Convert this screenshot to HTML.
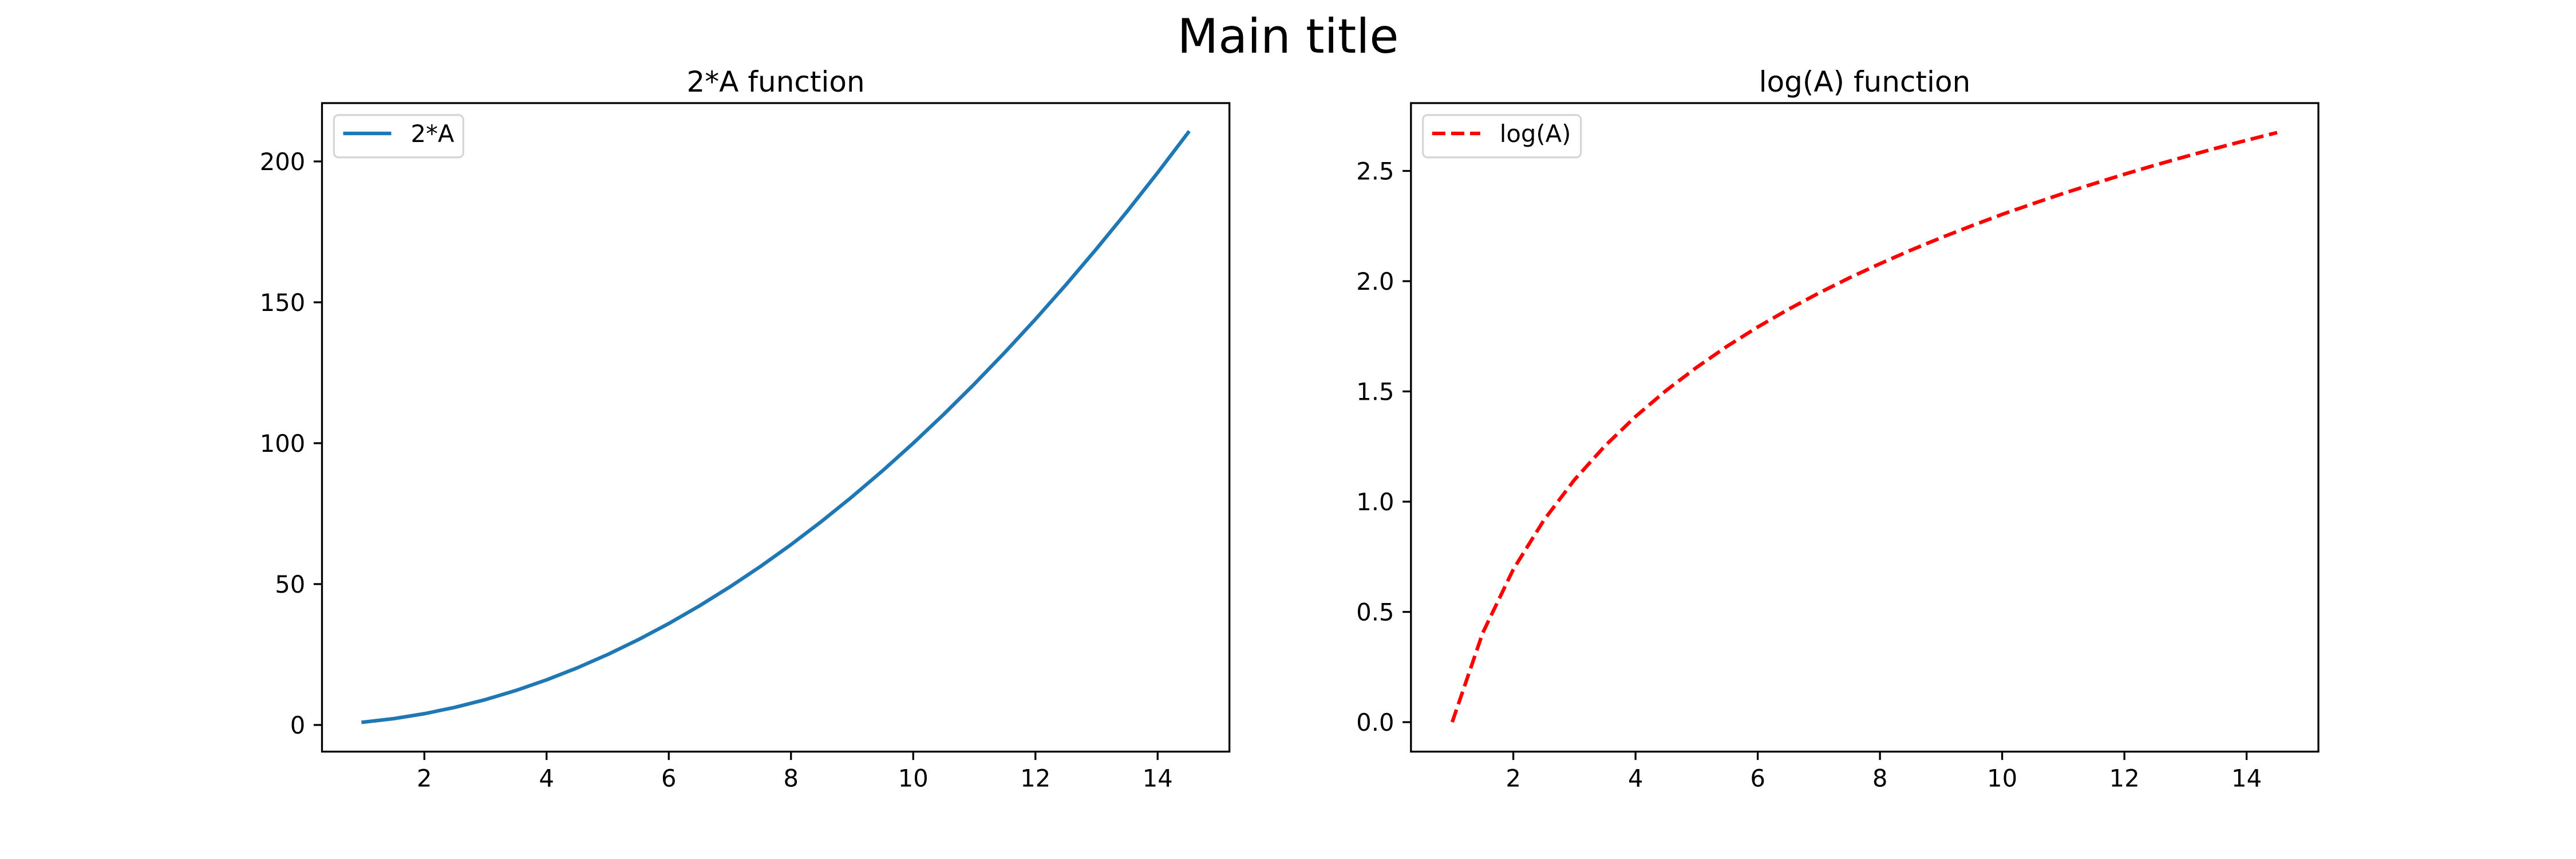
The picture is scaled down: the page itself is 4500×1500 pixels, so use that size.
<!DOCTYPE html>
<html><head><meta charset="utf-8"><style>
html,body{margin:0;padding:0;background:#fff;}
svg{display:block;font-family:"DejaVu Sans","Liberation Sans",sans-serif;}
</style></head><body>
<svg id="fig" width="4500" height="1500" viewBox="0 0 4500 1500">
<rect width="4500" height="1500" fill="#fff"/>
<text x="2250" y="92" font-size="83" text-anchor="middle">Main title</text>
</svg>
<script>
const xValues = [1,1.5,2,2.5,3,3.5,4,4.5,5,5.5,6,6.5,7,7.5,8,8.5,9,9.5,10,10.5,11,11.5,12,12.5,13,13.5,14,14.5];
const squareValues = [1,2.25,4,6.25,9,12.25,16,20.25,25,30.25,36,42.25,49,56.25,64,72.25,81,90.25,100,110.25,121,132.25,144,156.25,169,182.25,196,210.25];
const logValues = [0,0.405,0.693,0.916,1.099,1.253,1.386,1.504,1.609,1.705,1.792,1.872,1.946,2.015,2.079,2.140,2.197,2.251,2.303,2.351,2.398,2.442,2.485,2.526,2.565,2.603,2.639,2.674];
const xTicks = [2,4,6,8,10,12,14];
const yTicksLeft = [0,50,100,150,200];
const yTicksRight = [0,0.5,1.0,1.5,2.0,2.5];

const NS = "http://www.w3.org/2000/svg";
const svg = document.getElementById('fig');
function el(tag, attrs, parent){const e=document.createElementNS(NS,tag);for(const k in attrs)e.setAttribute(k,attrs[k]);(parent||svg).appendChild(e);return e;}

function panel(cfg){
  const L=cfg.left,R=cfg.left+1585.2,T=180,B=1312.5;
  const xmin=Math.min(...xValues),xmax=Math.max(...xValues),xr=xmax-xmin;
  const ymin=Math.min(...cfg.y),ymax=Math.max(...cfg.y),yr=ymax-ymin;
  const x0=xmin-0.05*xr,x1=xmax+0.05*xr,y0=ymin-0.05*yr,y1=ymax+0.05*yr;
  const sx=v=>L+(v-x0)/(x1-x0)*(R-L);
  const sy=v=>B-(v-y0)/(y1-y0)*(B-T);
  const g=el('g',{});
  
  
  const t=el('text',{x:(L+R)/2,y:T-20,'font-size':50,'text-anchor':'middle'},g);
  t.textContent=cfg.title;
  
  
  const pts=xValues.map((x,i)=>sx(x).toFixed(2)+','+sy(cfg.y[i]).toFixed(2)).join(' ');
  const line=el('polyline',{points:pts,fill:'none',stroke:cfg.color,'stroke-width':6.25,'stroke-linejoin':'round','stroke-linecap':cfg.dash?'butt':'square','stroke-dasharray':cfg.dash||'none'},g);
  
  
  xTicks.forEach(v=>{
    const x=sx(v);
    el('line',{x1:x,x2:x,y1:B,y2:B+14.6,stroke:'#000','stroke-width':3.3},g);
    const tt=el('text',{x:x,y:B+14.6+14.6+32,'font-size':41.7,'text-anchor':'middle'},g);
    tt.textContent=v;
    
    
  });
  cfg.yt.forEach(v=>{
    const y=sy(v);
    el('line',{x1:L-14.6,x2:L,y1:y,y2:y,stroke:'#000','stroke-width':3.3},g);
    const tt=el('text',{x:L-14.6-14.6,y:y+15,'font-size':41.7,'text-anchor':'end'},g);
    tt.textContent=cfg.fmt(v);
    
    
  });
  el('rect',{x:L,y:T,width:R-L,height:B-T,fill:'none',stroke:'#000','stroke-width':3.3},g);
  const lg=el('g',{},g);
  
  
  el('rect',{x:L+20.8,y:T+20.8,width:cfg.legW,height:74,rx:8,fill:'#fff','fill-opacity':0.8,stroke:'#d6d6d6','stroke-width':3.3},lg);
  el('line',{x1:L+37,x2:L+121,y1:T+53,y2:T+53,stroke:cfg.color,'stroke-width':6.25,'stroke-dasharray':cfg.dash||'none'},lg);
  const lt=el('text',{x:L+155,y:T+68,'font-size':41.7},lg);
  lt.textContent=cfg.label;
}
panel({left:562.5,y:squareValues,yt:yTicksLeft,fmt:v=>String(v),title:'2*A function',color:'#1f77b4',label:'2*A',legW:226,name:'left-subplot',seriesName:'line-2A'});
panel({left:2464.8,y:logValues,yt:yTicksRight,fmt:v=>v.toFixed(1),title:'log(A) function',color:'#ff0000',dash:'23.1 10',label:'log(A)',legW:276,name:'right-subplot',seriesName:'line-logA'});
</script>
</body></html>
